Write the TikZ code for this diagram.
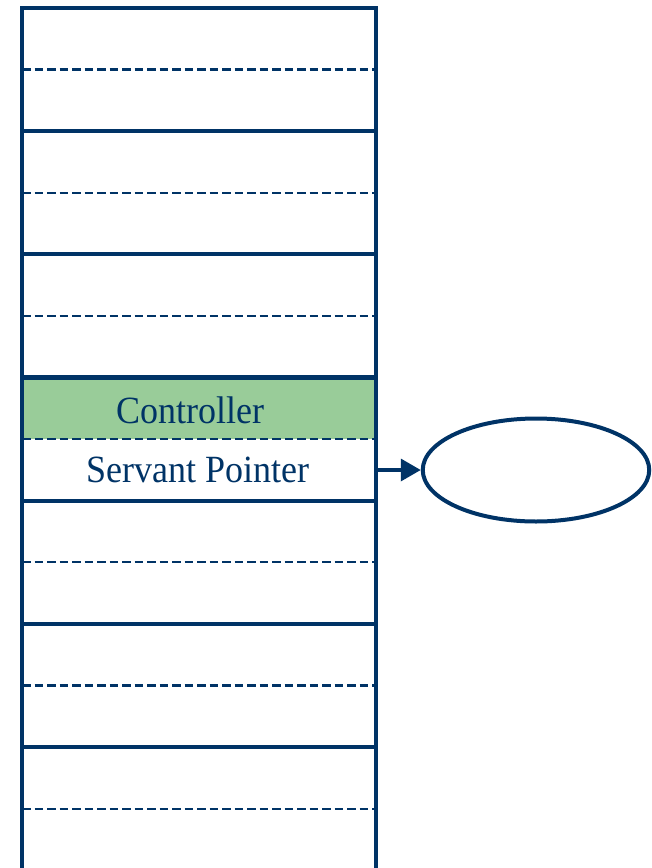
\documentclass[tikz,border=0pt]{standalone}
\usepackage{fontspec}
\usepackage{graphicx}
\setmainfont{Liberation Serif}
\usetikzlibrary{arrows.meta,shapes.geometric}
\definecolor{navy}{RGB}{0,51,102}
\definecolor{ctrlgreen}{RGB}{153,204,153}
\newcommand{\tallish}[1]{\scalebox{1}[1.07]{#1}}
\begin{document}
\begin{tikzpicture}[x=1pt,y=-1pt,
  frame/.style={draw=navy,line width=4.2pt},
  half/.style={draw=navy,line width=2.2pt,dash pattern=on 8.5pt off 4pt},
  slotlabel/.style={text=navy,font=\fontsize{36}{40}\selectfont,inner sep=0pt,anchor=base},
  link/.style={draw=navy,line width=3.6pt,-{Triangle[length=20pt,width=22pt]}},
  servantobj/.style={draw=navy,line width=4pt,ellipse,inner sep=0pt,
    minimum width=226.5pt,minimum height=103pt}]
\useasboundingbox (0,0) rectangle (652,868);
\def\rowh{123.17}
% controller slot background
\fill[ctrlgreen] (22,377.5) rectangle (376,439.1);
% dashed dividers between the two halves of each slot
\foreach \k in {0,...,6}
  \draw[half] (22,{8+\rowh*\k+\rowh/2}) -- (376,{8+\rowh*\k+\rowh/2});
% solid dividers between slots
\foreach \k in {1,...,6}
  \draw[frame] (22,{8+\rowh*\k}) -- (376,{8+\rowh*\k});
% column frame, open at the bottom
\draw[frame,line join=miter] (22,880) -- (22,8) -- (376,8) -- (376,880);
% slot texts
\node[slotlabel] (ctrl) at (190.5,423) {\tallish{Controller}};
\node[slotlabel] (ptr) at (198,482) {\tallish{Servant Pointer}};
% servant object and the pointer to it
\node[servantobj] (servant) at (536,470) {};
\coordinate (ptrout) at (376,470);
\draw[link] (ptrout) -- (servant.west);
\end{tikzpicture}
\end{document}
